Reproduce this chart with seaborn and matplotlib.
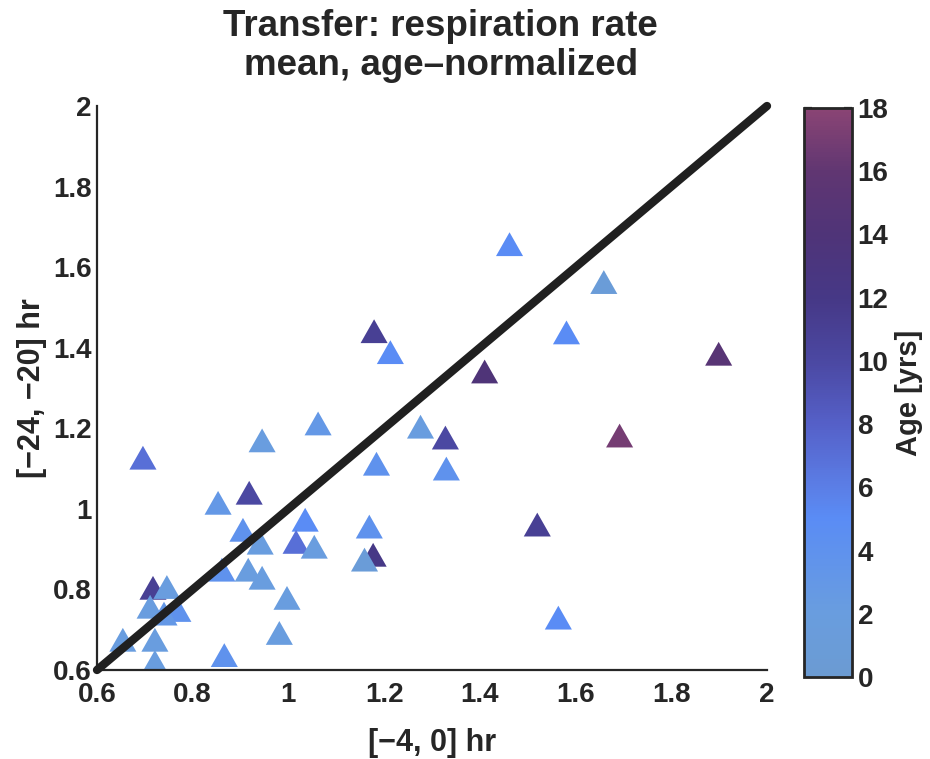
import numpy as np
import pandas as pd
import matplotlib
matplotlib.use("Agg")
import matplotlib.pyplot as plt
from matplotlib.colors import LinearSegmentedColormap, Normalize
from matplotlib.cm import ScalarMappable
import seaborn as sns

# ---- data ----
x_vals = [1.462, 1.659, 1.581, 1.179, 1.213, 1.410, 1.899, 1.692, 1.276, 1.328,
          1.330, 1.520, 1.184, 1.169, 1.177, 1.159, 1.564, 0.696, 0.945, 1.062,
          0.853, 0.918, 1.035, 0.905, 0.941, 1.016, 1.054, 0.861, 0.916, 0.945,
          0.997, 0.981, 0.866, 0.717, 0.746, 0.711, 0.769, 0.740, 0.654, 0.721,
          0.721]
y_vals = [1.657, 1.563, 1.438, 1.441, 1.389, 1.341, 1.385, 1.182, 1.204, 1.177,
          1.100, 0.961, 1.112, 0.956, 0.886, 0.874, 0.730, 1.127, 1.170, 1.212,
          1.015, 1.040, 0.973, 0.948, 0.916, 0.918, 0.906, 0.849, 0.849, 0.829,
          0.779, 0.692, 0.637, 0.804, 0.806, 0.757, 0.749, 0.740, 0.675, 0.675,
          0.620]
ages = [5, 1, 5, 11, 5, 14, 15, 17, 2, 10,
        4, 11, 4, 4, 12, 1, 5, 7, 2, 3,
        3, 10, 5, 4, 2, 7, 2, 4, 2, 2,
        2, 2, 4, 11, 2, 2, 4, 3, 2, 2,
        2]
ticks_main = [0.6, 0.8, 1.0, 1.2, 1.4, 1.6, 1.8, 2.0]
tick_labels_main = ["0.6", "0.8", "1", "1.2", "1.4", "1.6", "1.8", "2"]
cbar_ticks = [0, 2, 4, 6, 8, 10, 12, 14, 16, 18]

df = pd.DataFrame({"x": x_vals, "y": y_vals, "age": ages})

# ---- style ----
sns.set_style("white")
plt.rcParams["font.family"] = ["Liberation Sans", "DejaVu Sans"]
plt.rcParams["font.weight"] = "bold"

cmap = LinearSegmentedColormap.from_list(
    "agecmap",
    [(0.0, "#6b9bd2"), (2/18, "#699ddf"), (5/18, "#5a8cf5"), (6/18, "#5b7ee6"),
     (8/18, "#5560c8"), (10/18, "#4b48a2"), (12/18, "#463886"),
     (14/18, "#4f3478"), (16/18, "#603672"), (1.0, "#8a4474")])
norm = Normalize(0, 18)

fig = plt.figure(figsize=(9.30, 7.59), dpi=100)
ax = fig.add_axes([97/930, 1 - 670/759, (767-97)/930, (670-106)/759])
cax = fig.add_axes([804/930, 1 - 677/759, (852-804)/930, (677-108)/759])

tri = [(-1.0, -0.88), (1.0, -0.88), (0.0, 0.88)]
sns.scatterplot(data=df, x="x", y="y", hue="age", palette=cmap, hue_norm=norm,
                marker=tri, s=380, linewidth=0, legend=False, ax=ax, zorder=2)

ax.plot([0.6, 2.0], [0.6, 2.0], color="#202020", lw=6,
        solid_capstyle="round", zorder=3, clip_on=False)

ax.set_xlim(0.6, 2.0)
ax.set_ylim(0.6, 2.0)
ax.set_xticks(ticks_main)
ax.set_xticklabels(tick_labels_main)
ax.set_yticks(ticks_main)
ax.set_yticklabels(tick_labels_main)
for sp in ["top", "right"]:
    ax.spines[sp].set_visible(False)
for sp in ["left", "bottom"]:
    ax.spines[sp].set_color("#262626")
    ax.spines[sp].set_linewidth(1.6)
ax.tick_params(direction="in", length=6, width=1.6, color="#262626",
               labelsize=20, labelcolor="#262626", pad=4)
ax.tick_params(axis="x", pad=9)
for lab in ax.get_xticklabels() + ax.get_yticklabels():
    lab.set_fontweight("bold")

ax.set_xlabel("[\u22124, 0] hr", fontsize=22, fontweight="bold",
              color="#262626", labelpad=14)
ax.set_ylabel("[\u221224, \u221220] hr", fontsize=22, fontweight="bold",
              color="#262626", labelpad=4)
ax.set_title("Transfer: respiration rate\nmean, age\u2013normalized",
             fontsize=26.5, fontweight="bold", color="#262626", pad=22,
             linespacing=1.15, x=0.513)

sm = ScalarMappable(norm=norm, cmap=cmap)
cb = fig.colorbar(sm, cax=cax, ticks=cbar_ticks)
cb.outline.set_linewidth(2)
cb.outline.set_edgecolor("#262626")
cax.tick_params(direction="in", length=6, width=1.6, color="#262626",
                labelsize=20, labelcolor="#262626", left=True, right=True,
                pad=4)
cax.yaxis.set_ticks_position("both")
cax.yaxis.set_label_position("right")
for lab in cax.get_yticklabels():
    lab.set_fontweight("bold")
cb.set_label("Age [yrs]", fontsize=21, fontweight="bold", color="#262626",
             labelpad=5)

fig.savefig("out.png", dpi=100, facecolor="white")
